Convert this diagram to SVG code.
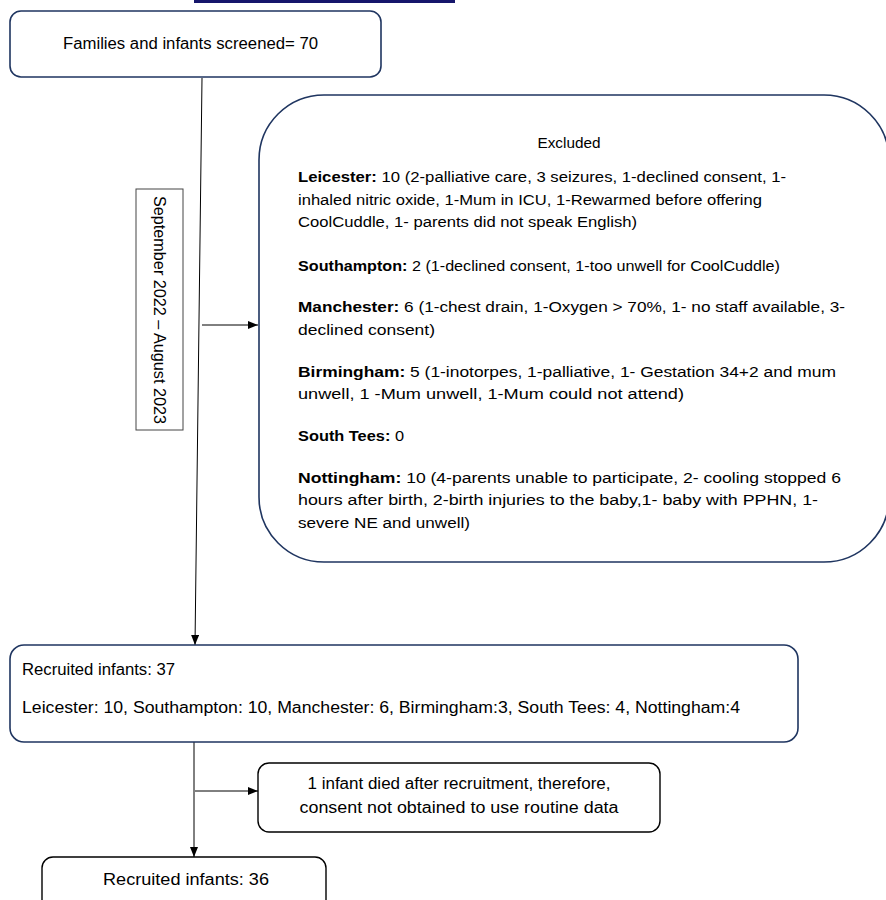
<svg xmlns="http://www.w3.org/2000/svg" width="886" height="900" viewBox="0 0 886 900">
<style>
.t{font-family:"Liberation Sans",Arial,sans-serif;font-size:16px;fill:#000}
.s{font-size:15.5px}
.b{font-weight:bold}
.nb{fill:#fff;stroke:#1f3560;stroke-width:1.6}
.kb{fill:#fff;stroke:#000;stroke-width:1.4}
.c{stroke:#000;stroke-width:1;fill:none}
</style>
<defs>
<marker id="ah" markerWidth="10" markerHeight="8" refX="10" refY="4" orient="auto" markerUnits="userSpaceOnUse">
<path d="M0,0 L10,4 L0,8 Z" fill="#000"/>
</marker>
</defs>
<rect x="0" y="0" width="886" height="900" fill="#fff"/>
<rect x="194" y="0" width="261" height="3" fill="#16166b"/>
<g id="connectors">
<line class="c" x1="202" y1="78" x2="195" y2="645" marker-end="url(#ah)"/>
<line class="c" x1="202" y1="325" x2="258" y2="325" marker-end="url(#ah)"/>
<line class="c" x1="194" y1="742" x2="194" y2="857" marker-end="url(#ah)"/>
<line class="c" x1="195" y1="791" x2="258" y2="791" marker-end="url(#ah)"/>
</g>
<g id="screened">
<rect class="nb" x="10" y="11" width="371" height="66" rx="11"/>
<text class="t" x="190.5" y="49" text-anchor="middle" textLength="255" lengthAdjust="spacingAndGlyphs">Families and infants screened= 70</text>
</g>
<g id="period">
<rect x="136" y="189" width="47" height="241" fill="#fff" stroke="#444" stroke-width="1"/>
<text class="t" transform="translate(154,310) rotate(90)" text-anchor="middle" textLength="228" lengthAdjust="spacingAndGlyphs">September 2022 – August 2023</text>
</g>
<g id="excluded">
<rect class="nb" x="259" y="95" width="630" height="467" rx="65"/>
<text class="t s" x="569" y="148" text-anchor="middle" textLength="63" lengthAdjust="spacingAndGlyphs">Excluded</text>
<text class="t s" x="298" y="182" textLength="488" lengthAdjust="spacingAndGlyphs"><tspan class="b">Leicester:</tspan> 10 (2-palliative care, 3 seizures, 1-declined consent, 1-</text>
<text class="t s" x="298" y="205" textLength="464" lengthAdjust="spacingAndGlyphs">inhaled nitric oxide, 1-Mum in ICU, 1-Rewarmed before offering</text>
<text class="t s" x="298" y="227" textLength="339" lengthAdjust="spacingAndGlyphs">CoolCuddle, 1- parents did not speak English)</text>
<text class="t s" x="298" y="271" textLength="482" lengthAdjust="spacingAndGlyphs"><tspan class="b">Southampton:</tspan> 2 (1-declined consent, 1-too unwell for CoolCuddle)</text>
<text class="t s" x="298" y="312" textLength="547" lengthAdjust="spacingAndGlyphs"><tspan class="b">Manchester:</tspan> 6 (1-chest drain, 1-Oxygen &gt; 70%, 1- no staff available, 3-</text>
<text class="t s" x="298" y="335" textLength="137" lengthAdjust="spacingAndGlyphs">declined consent)</text>
<text class="t s" x="298" y="377" textLength="538" lengthAdjust="spacingAndGlyphs"><tspan class="b">Birmingham:</tspan> 5 (1-inotorpes, 1-palliative, 1- Gestation 34+2 and mum</text>
<text class="t s" x="298" y="399" textLength="386" lengthAdjust="spacingAndGlyphs">unwell, 1 -Mum unwell, 1-Mum could not attend)</text>
<text class="t s" x="298" y="441" textLength="106" lengthAdjust="spacingAndGlyphs"><tspan class="b">South Tees:</tspan> 0</text>
<text class="t s" x="298" y="483" textLength="543" lengthAdjust="spacingAndGlyphs"><tspan class="b">Nottingham:</tspan> 10 (4-parents unable to participate, 2- cooling stopped 6</text>
<text class="t s" x="298" y="505" textLength="520" lengthAdjust="spacingAndGlyphs">hours after birth, 2-birth injuries to the baby,1- baby with PPHN, 1-</text>
<text class="t s" x="298" y="528" textLength="172" lengthAdjust="spacingAndGlyphs">severe NE and unwell)</text>
</g>
<g id="recruited37">
<rect class="nb" x="10" y="645" width="788" height="97" rx="14"/>
<text class="t" x="22" y="675" textLength="153" lengthAdjust="spacingAndGlyphs">Recruited infants: 37</text>
<text class="t" x="22" y="713" textLength="718" lengthAdjust="spacingAndGlyphs">Leicester: 10, Southampton: 10, Manchester: 6, Birmingham:3, South Tees: 4, Nottingham:4</text>
</g>
<g id="died">
<rect class="kb" x="258" y="763" width="402" height="69" rx="11"/>
<text class="t" x="459" y="789" text-anchor="middle" textLength="303" lengthAdjust="spacingAndGlyphs">1 infant died after recruitment, therefore,</text>
<text class="t" x="459" y="813" text-anchor="middle" textLength="319" lengthAdjust="spacingAndGlyphs">consent not obtained to use routine data</text>
</g>
<g id="recruited36">
<rect class="kb" x="42" y="857" width="284" height="60" rx="11"/>
<text class="t" x="186" y="885" text-anchor="middle" textLength="166" lengthAdjust="spacingAndGlyphs">Recruited infants: 36</text>
</g>
</svg>
